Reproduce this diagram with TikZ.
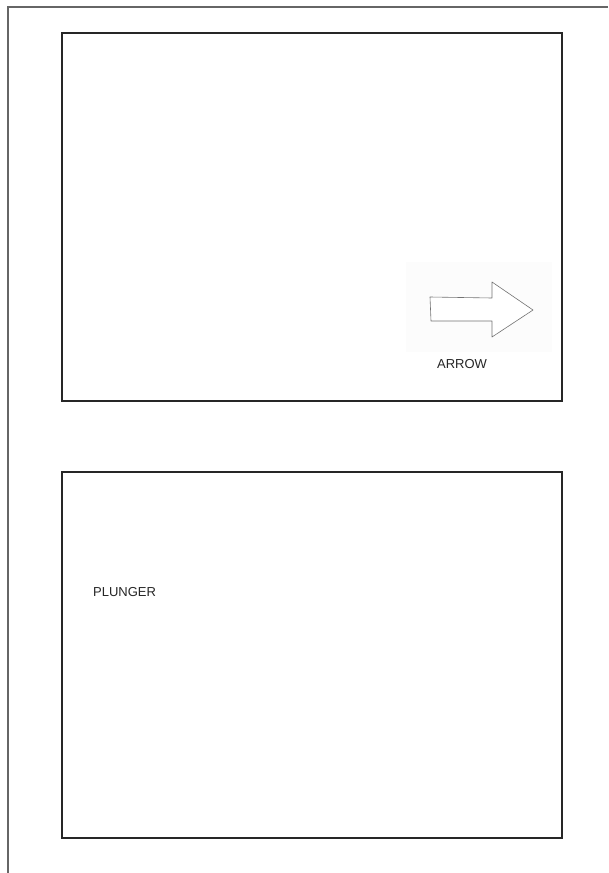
\documentclass[tikz,border=0pt]{standalone}
\usepackage{fontspec}
\setmainfont{Liberation Sans}
\begin{document}
\begin{tikzpicture}[x=1pt,y=-1pt,
  panel/.style={draw=black!85,line width=1.1pt},
  frame/.style={draw=black!60,line width=1.6pt},
  lbl/.style={font=\fontsize{13}{15}\selectfont,text=black!85,inner sep=0pt}]
\useasboundingbox (0,0) rectangle (608,873);
\fill[white] (0,0) rectangle (608,873);
% outer frame
\draw[frame] (608,7) -- (8,7) -- (8,873);
% panels
\draw[panel] (62,33) rectangle (562,401);
\draw[panel] (62,472) rectangle (562,838);
% faint scanned background of arrow sketch
\fill[black!1.2] (406,262) rectangle (552,352);
% arrow sketch
\draw[black!55,line width=0.6pt,line join=round,fill=white]
  (430,297) -- (492,298) -- (492,282) -- (533,310) -- (492,337) -- (492,321) -- (431,321) -- cycle;
\node[lbl] (arrowlbl) at (462,364) {ARROW};
\node[lbl,anchor=west] (plunger) at (93,592) {PLUNGER};
\end{tikzpicture}
\end{document}
